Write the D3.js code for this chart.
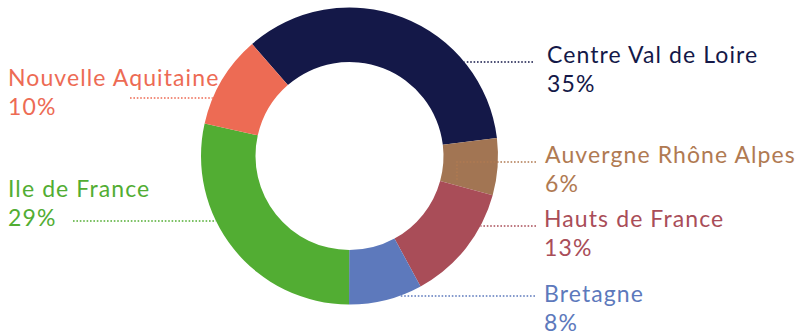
<!DOCTYPE html>
<meta charset="utf-8">
<style>
body { margin: 0; background: #fff; }
text { font-family: Lato, sans-serif; font-size: 23px; letter-spacing: 1.1px; }
.leader { fill: none; stroke-width: 1.6px; stroke-dasharray: 1.6,1.8; }
</style>
<svg width="803" height="336"></svg>
<script src="https://cdn.jsdelivr.net/npm/d3@7"></script>
<script>

// data, clockwise from the Centre slice
var regions = ["Centre Val de Loire", "Auvergne Rhône Alpes", "Hauts de France", "Bretagne", "Ile de France", "Nouvelle Aquitaine"];
var shares = [34.5, 6.2, 12.8, 8.0, 28.5, 10.1];
var percentLabels = ["35%", "6%", "13%", "8%", "29%", "10%"];
var colors = ["#141848", "#a27553", "#a94d58", "#5d79bc", "#52ad33", "#ed6b54"];
var textColors = ["#141848", "#b07a52", "#a94d58", "#5d79bc", "#52ad33", "#ed6b54"];

// label layout: side, text x, first baseline, leader y, leader far end
var labelSide = ["right", "right", "right", "right", "left", "left"];
var labelX = [547, 545, 544, 544, 8, 8];
var labelY = [63, 163, 227, 302, 197, 86];
var leaderY = [62, 162, 226, 296, 221, 98];
var leaderEnd = [533, 536, 536, 535, 73, 130];

var svg = d3.select("svg"),
    cx = 349.5,
    cy = 156,
    outerR = 148.5,
    innerR = 94;

var pie = d3.pie()
    .sort(null)
    .value(function(d) { return d; })
    .startAngle(-41 * Math.PI / 180)
    .endAngle(-41 * Math.PI / 180 + 2 * Math.PI);

var arc = d3.arc()
    .innerRadius(innerR)
    .outerRadius(outerR);

var g = svg.append("g")
    .attr("transform", "translate(" + cx + "," + cy + ")");

g.selectAll("path")
    .data(pie(shares))
    .enter().append("path")
      .attr("d", arc)
      .attr("fill", function(d, i) { return colors[i]; });

// dotted leader lines, from the ring's outer edge to the label
var leaders = svg.append("g");
regions.forEach(function(name, i) {
  var dy = leaderY[i] - cy,
      dx = Math.sqrt(outerR * outerR - dy * dy),
      edge = labelSide[i] == "right" ? cx + dx : cx - dx,
      pts = [[leaderEnd[i], leaderY[i]], [edge, leaderY[i]]];
  // the Auvergne leader reaches into its slice and drops a little
  if (i == 1) pts = [[leaderEnd[i], leaderY[i]], [457, leaderY[i]], [457, leaderY[i] + 18]];
  leaders.append("path")
      .attr("class", "leader")
      .attr("stroke", textColors[i])
      .attr("d", d3.line()(pts));
});

var labels = svg.append("g")
    .selectAll("text")
    .data(regions)
    .enter().append("text")
      .attr("x", function(d, i) { return labelX[i]; })
      .attr("y", function(d, i) { return labelY[i]; })
      .attr("fill", function(d, i) { return textColors[i]; });

labels.append("tspan")
    .text(function(d) { return d; });

labels.append("tspan")
    .attr("x", function(d, i) { return labelX[i]; })
    .attr("dy", 29)
    .text(function(d, i) { return percentLabels[i]; });

</script>
